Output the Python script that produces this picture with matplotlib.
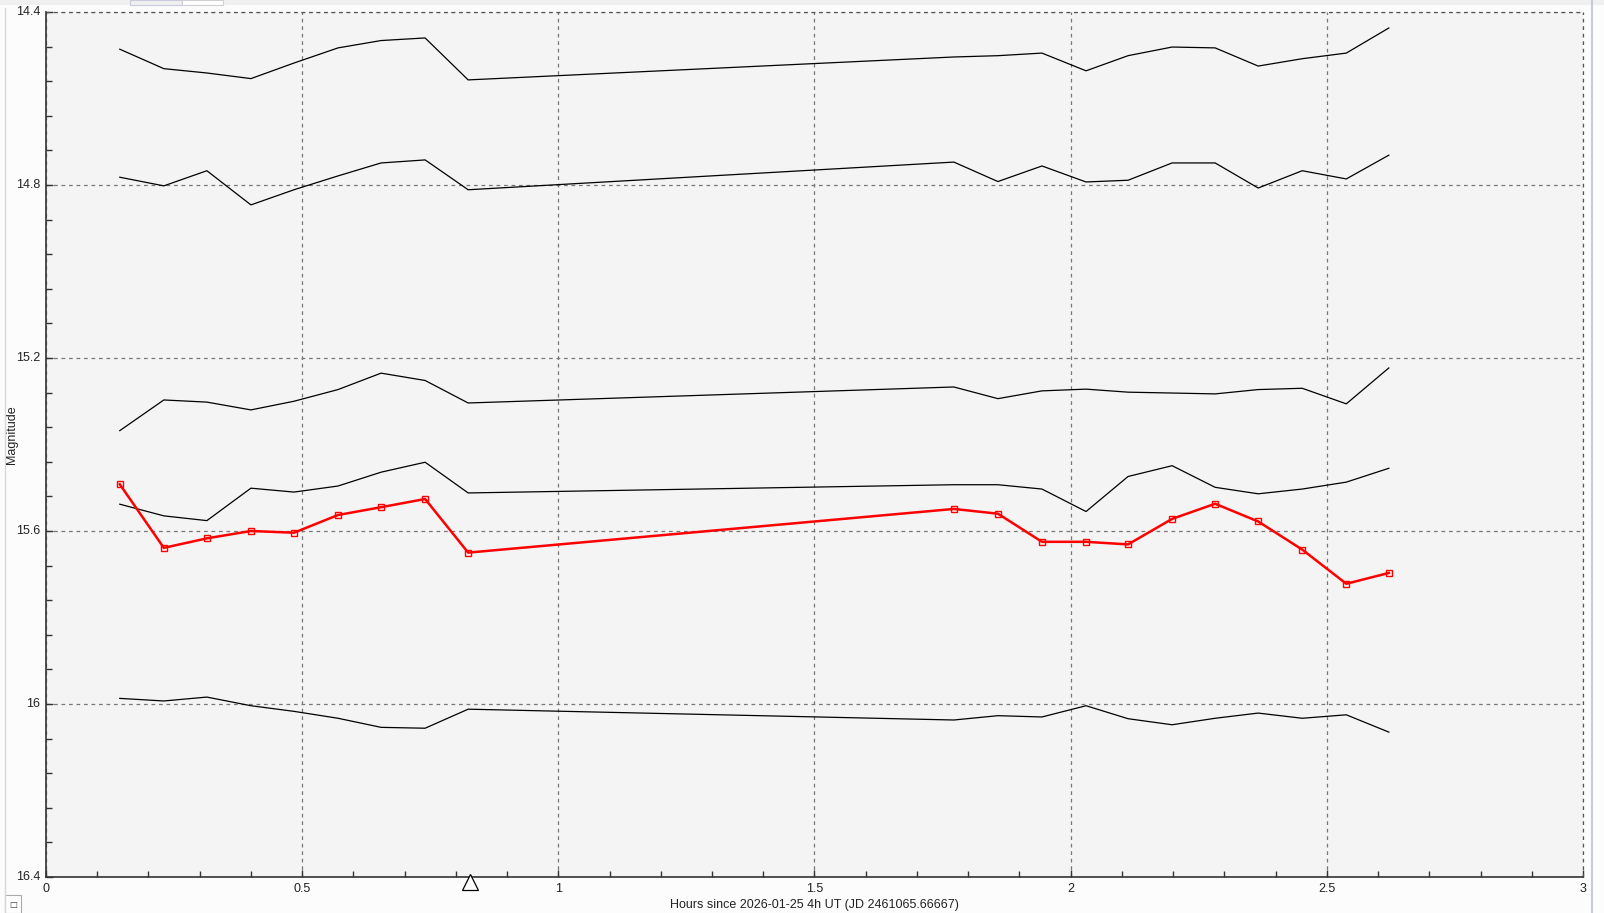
import matplotlib
matplotlib.use("Agg")
import matplotlib.pyplot as plt
from matplotlib.ticker import MultipleLocator
from matplotlib.patches import Rectangle
import numpy as np

plt.rcParams["font.family"] = ["Liberation Sans", "DejaVu Sans"]

# observation times (hours since 2026-01-25 4h UT)
hours = [0.144, 0.230, 0.314, 0.400, 0.484, 0.570, 0.654, 0.740, 0.824,
         1.772, 1.858, 1.944, 2.030, 2.112, 2.198, 2.282, 2.366, 2.452, 2.538, 2.621]

# comparison stars (black)
comp1 = [14.486, 14.531, 14.541, 14.554, 14.518, 14.483, 14.466, 14.460, 14.557,
         14.504, 14.501, 14.495, 14.536, 14.501, 14.481, 14.483, 14.525, 14.508, 14.495, 14.437]
comp2 = [14.782, 14.802, 14.767, 14.846, 14.811, 14.779, 14.749, 14.742, 14.811,
         14.747, 14.792, 14.756, 14.793, 14.789, 14.749, 14.749, 14.807, 14.767, 14.786, 14.731]
comp3 = [15.368, 15.297, 15.302, 15.320, 15.300, 15.273, 15.235, 15.252, 15.304,
         15.267, 15.294, 15.276, 15.272, 15.279, 15.281, 15.283, 15.273, 15.270, 15.306, 15.223]
comp4 = [15.538, 15.565, 15.576, 15.501, 15.510, 15.496, 15.464, 15.441, 15.512,
         15.493, 15.493, 15.503, 15.555, 15.474, 15.449, 15.499, 15.514, 15.503, 15.487, 15.455]
comp5 = [15.987, 15.993, 15.984, 16.004, 16.017, 16.033, 16.054, 16.056, 16.012,
         16.037, 16.027, 16.030, 16.004, 16.034, 16.048, 16.033, 16.021, 16.033, 16.025, 16.065]
comps = [comp1, comp2, comp3, comp4, comp5]

# target star (red)
target = [15.492, 15.639, 15.617, 15.600, 15.604, 15.563, 15.545, 15.526, 15.650,
          15.549, 15.560, 15.625, 15.625, 15.631, 15.572, 15.537, 15.578, 15.643, 15.722, 15.697]

MARKER_X = 0.827   # time marker on the x axis
XLIM = (0, 3)
YLIM = (16.4, 14.4)
FS = 9

fig = plt.figure(figsize=(16.04, 9.13), dpi=100, facecolor="#fcfcfc")
ax = fig.add_axes([46 / 1604, 1 - 877 / 913, (1583 - 46) / 1604, (877 - 12) / 913])
ax.set_facecolor("#f4f4f4")

for c in comps:
    ax.plot(hours, c, color="black", lw=0.9, zorder=3)
ax.plot(hours, target, color="red", lw=1.8, marker="s", ms=5, mfc="none",
        mec="red", mew=1.0, zorder=4)

ax.set_xlim(*XLIM)
ax.set_ylim(*YLIM)
ax.xaxis.set_major_locator(MultipleLocator(0.5))
ax.xaxis.set_minor_locator(MultipleLocator(0.1))
ax.yaxis.set_major_locator(MultipleLocator(0.4))
ax.yaxis.set_minor_locator(MultipleLocator(0.08))
ax.set_xticklabels([])
ax.set_yticklabels([])
ax.tick_params(which="both", direction="in", color="#333333", width=1)
ax.tick_params(which="major", length=5)
ax.tick_params(which="minor", length=4)
ax.tick_params(axis="x", which="both", top=False)
ax.tick_params(axis="y", which="both", right=False)

# tick labels drawn as annotations so 14.4 / 16.4 sit at the frame ends
for v in np.arange(XLIM[0], XLIM[1] + 0.01, 0.5):
    ax.annotate(f"{v:g}", (v, 0), xycoords=("data", "axes fraction"),
                xytext=(0, -4), textcoords="offset points", ha="center", va="top",
                fontsize=FS, color="#222222", annotation_clip=False)
for v in np.arange(14.4, 16.41, 0.4):
    ax.annotate(f"{v:g}", (0, v), xycoords=("axes fraction", "data"),
                xytext=(-4, 0), textcoords="offset points", ha="right", va="center",
                fontsize=FS, color="#222222", annotation_clip=False)

ax.grid(True, which="major", color="#777777", ls=(0, (3, 3)), lw=0.9)
for s in ("top", "right"):
    ax.spines[s].set_visible(False)
for s in ("left", "bottom"):
    ax.spines[s].set_color("#333333")
    ax.spines[s].set_linewidth(1.2)
ax.axhline(YLIM[1], color="#555555", ls=(0, (3, 3)), lw=0.9, clip_on=False)
ax.axvline(XLIM[1], color="#555555", ls=(0, (3, 3)), lw=0.9, clip_on=False)

ax.plot([MARKER_X], [-0.006], transform=ax.get_xaxis_transform(), marker="^",
        ms=11, mfc="white", mec="black", mew=0.9, clip_on=False, zorder=6)

fig.text(814 / 1604, 1 - 905 / 913, "Hours since 2026-01-25 4h UT (JD 2461065.66667)",
         ha="center", va="center", fontsize=FS, color="#222222")
fig.text(12 / 1604, 1 - 435 / 913, "Magnitude", rotation=90,
         ha="center", va="center", fontsize=FS, color="#222222")

# window frame bits
fig.add_artist(plt.Line2D([5 / 1604] * 2, [0, 1 - 8 / 913], color="#d8d8d8", lw=1))
fig.add_artist(plt.Line2D([1592 / 1604] * 2, [0, 1], color="#c8cbe0", lw=1.5))
fig.add_artist(Rectangle((0, 1 - 5 / 913), 1, 5 / 913, transform=fig.transFigure,
                         fc="#f0f0f0", ec="none"))
fig.add_artist(Rectangle((130 / 1604, 1 - 5 / 913), 52 / 1604, 5 / 913,
                         transform=fig.transFigure, fc="#f0f0f0", ec="#c8cbe0", lw=0.8))
fig.add_artist(Rectangle((182 / 1604, 1 - 5 / 913), 41 / 1604, 5 / 913,
                         transform=fig.transFigure, fc="white", ec="#d0d0d0", lw=0.8))
fig.add_artist(Rectangle((5 / 1604, 0), 16 / 1604, 18 / 913, transform=fig.transFigure,
                         fc="white", ec="#aaaaaa", lw=0.8))
fig.text(13 / 1604, 9 / 913, "□", ha="center", va="center", fontsize=6, color="#333333",
         family="DejaVu Sans")

fig.savefig("out.png", dpi=100, facecolor=fig.get_facecolor())
